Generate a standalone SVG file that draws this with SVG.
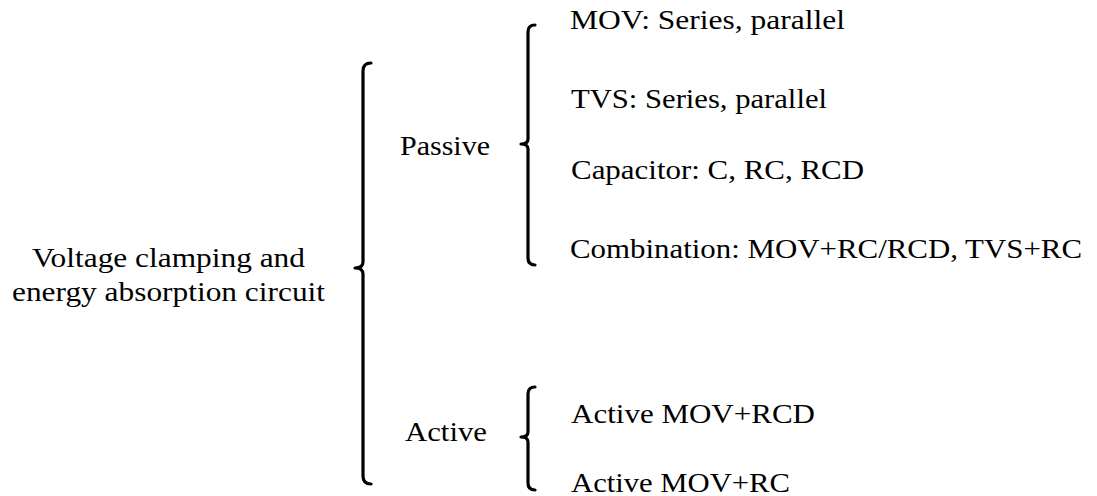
<svg xmlns="http://www.w3.org/2000/svg" width="1097" height="496" viewBox="0 0 1097 496">
<style>
text{font-family:"Liberation Serif","Times New Roman",serif;font-size:28px;fill:#000}
.br{fill:none;stroke:#000;stroke-width:3.2;stroke-linecap:round;stroke-linejoin:round}
</style>
<rect width="1097" height="496" fill="#fff"/>
<g id="root"><text x="168.5" y="267" text-anchor="middle" textLength="273" lengthAdjust="spacingAndGlyphs">Voltage clamping and</text><text x="168.5" y="301" text-anchor="middle" textLength="313" lengthAdjust="spacingAndGlyphs">energy absorption circuit</text></g>
<g id="passive"><text x="400" y="155" textLength="90" lengthAdjust="spacingAndGlyphs">Passive</text></g>
<g id="active"><text x="405" y="441" textLength="82" lengthAdjust="spacingAndGlyphs">Active</text></g>
<g id="mov"><text x="570" y="29" textLength="275" lengthAdjust="spacingAndGlyphs">MOV: Series, parallel</text></g>
<g id="tvs"><text x="571" y="108" textLength="256" lengthAdjust="spacingAndGlyphs">TVS: Series, parallel</text></g>
<g id="cap"><text x="571" y="179" textLength="293" lengthAdjust="spacingAndGlyphs">Capacitor: C, RC, RCD</text></g>
<g id="comb"><text x="570" y="258" textLength="512" lengthAdjust="spacingAndGlyphs">Combination: MOV+RC/RCD, TVS+RC</text></g>
<g id="amovrcd"><text x="571" y="423" textLength="244" lengthAdjust="spacingAndGlyphs">Active MOV+RCD</text></g>
<g id="amovrc"><text x="571" y="492" textLength="219" lengthAdjust="spacingAndGlyphs">Active MOV+RC</text></g>
<g id="connectors">
<path class="br" d="M371,63 Q363,63 363,71 L363,262 Q363,268 355,268 Q363,268 363,274 L363,476 Q363,484 371,484"/>
<path class="br" d="M535,25 Q528,25 528,32 L528,139 Q528,144 521,144 Q528,144 528,149 L528,258 Q528,265 535,265"/>
<path class="br" d="M535,387 Q528,387 528,394 L528,432 Q528,437 521,437 Q528,437 528,442 L528,483 Q528,490 535,490"/>
</g>
</svg>
